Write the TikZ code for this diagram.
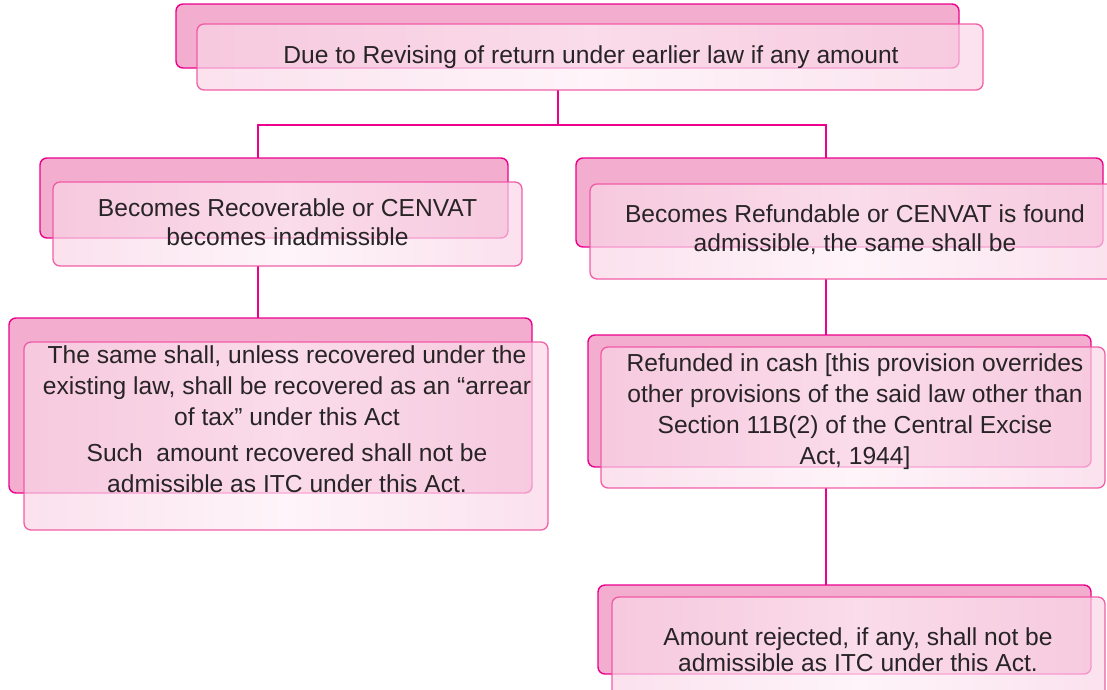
\documentclass[tikz,border=0pt]{standalone}
\usepackage{fontspec}
\setmainfont{Liberation Sans}
\usetikzlibrary{backgrounds}

\definecolor{mag}{RGB}{236,0,140}
\definecolor{backpink}{RGB}{243,173,206}
\definecolor{frontedge}{RGB}{240,80,160}
\definecolor{frontside}{RGB}{249,213,230}
\definecolor{frontmid}{RGB}{253,240,246}
\definecolor{textgray}{RGB}{40,36,38}

\tikzset{
  backbox/.style={draw=mag, fill=backpink, line width=1.4pt,
    rounded corners=7pt, anchor=north west, inner sep=0pt, outer sep=0pt},
  frontbox/.style={draw=frontedge, line width=1.3pt, rounded corners=7pt,
    left color=frontside, right color=frontside, middle color=frontmid,
    fill opacity=0.7, draw opacity=0.9,
    anchor=north west, inner sep=0pt, outer sep=0pt},
  txt/.style={text=textgray, align=center, inner sep=0pt,
    font=\fontsize{24.6}{29}\selectfont},
  conn/.style={draw=mag, line width=1.5pt},
}

\begin{document}
\begin{tikzpicture}[x=1pt, y=-1pt]
  \useasboundingbox (0,0) rectangle (1107,689);
  \clip (0,0) rectangle (1107,689);

  % top box
  \node[backbox, minimum width=783pt, minimum height=64pt] (topB) at (176,4) {};
  \node[frontbox, minimum width=786pt, minimum height=66pt] (topF) at (197,24) {};
  \node[txt] (topT) at (591,57) {Due to Revising of return under earlier law if any amount};

  % left branch, level 2
  \node[backbox, minimum width=468pt, minimum height=80pt] (l2B) at (40,158) {};
  \node[frontbox, minimum width=469pt, minimum height=84pt] (l2F) at (53,182) {};
  \node[txt] (l2T) at (287.5,222.5) {Becomes Recoverable or CENVAT\\becomes inadmissible};

  % right branch, level 2
  \node[backbox, minimum width=527pt, minimum height=89pt] (r2B) at (576,158) {};
  \node[frontbox, minimum width=530pt, minimum height=95pt] (r2F) at (590,184) {};
  \node[txt] (r2T) at (855,230) {Becomes Refundable or CENVAT is found\\admissible, the same shall be};

  % left branch, level 3
  \node[backbox, minimum width=523pt, minimum height=175pt] (l3B) at (9,318) {};
  \node[frontbox, minimum width=524pt, minimum height=188pt] (l3F) at (24,342) {};
  \node[txt, font=\fontsize{24.6}{31}\selectfont] (l3T) at (287,419)
    {The same shall, unless recovered under the\\
     existing law, shall be recovered as an “arrear\\
     of tax” under this Act\\[5pt]
     Such\ \ amount recovered shall not be\\
     admissible as ITC under this Act.};

  % right branch, level 3
  \node[backbox, minimum width=503pt, minimum height=132pt] (r3B) at (588,335) {};
  \node[frontbox, minimum width=504pt, minimum height=141pt] (r3F) at (601,347) {};
  \node[txt, font=\fontsize{24.6}{31}\selectfont] (r3T) at (855,411.5)
    {Refunded in cash [this provision overrides\\
     other provisions of the said law other than\\
     Section 11B(2) of the Central Excise\\
     Act, 1944]};

  % right branch, level 4
  \node[backbox, minimum width=493pt, minimum height=89pt] (r4B) at (598,585) {};
  \node[frontbox, minimum width=493pt, minimum height=110pt] (r4F) at (612,597) {};
  \node[txt, font=\fontsize{24.6}{26}\selectfont] (r4T) at (858,649.5)
    {Amount rejected, if any, shall not be\\admissible as ITC under this Act.};

  % connector junctions
  \coordinate (j0) at (558,125);
  \coordinate (jl) at (258,125);
  \coordinate (jr) at (826,125);

  \begin{pgfonlayer}{background}
    \draw[conn] (topF.south -| j0) -- (j0);
    \draw[conn] (l2B.north -| jl) -- (jl) -- (jr) -- (r2B.north -| jr);
    \draw[conn] (l2F.south -| jl) -- (l3B.north -| jl);
    \draw[conn] (r2F.south -| jr) -- (r3B.north -| jr);
    \draw[conn] (r3F.south -| jr) -- (r4B.north -| jr);
  \end{pgfonlayer}
\end{tikzpicture}
\end{document}
